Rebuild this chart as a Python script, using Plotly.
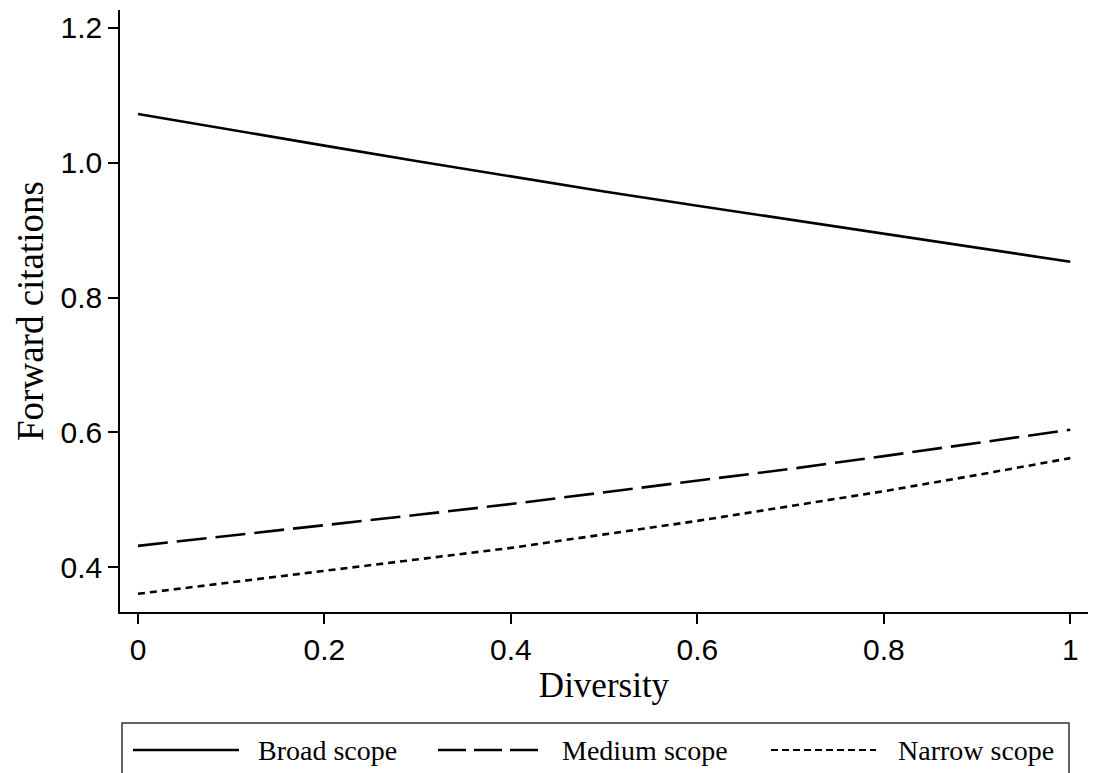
import plotly.graph_objects as go

# Data
diversity = [0.0, 0.1, 0.2, 0.3, 0.4, 0.5, 0.6, 0.7, 0.8, 0.9, 1.0]
broad = [1.072, 1.048, 1.025, 1.002, 0.979, 0.957, 0.936, 0.915, 0.894, 0.873, 0.853]
medium = [0.432, 0.447, 0.462, 0.478, 0.494, 0.511, 0.528, 0.546, 0.565, 0.584, 0.604]
narrow = [0.361, 0.378, 0.394, 0.411, 0.429, 0.449, 0.469, 0.491, 0.513, 0.537, 0.562]
series_names = ["Broad scope", "Medium scope", "Narrow scope"]
y_ticks = [0.4, 0.6, 0.8, 1.0, 1.2]
x_ticks = [0, 0.2, 0.4, 0.6, 0.8, 1]
x_tick_labels = ["0", "0.2", "0.4", "0.6", "0.8", "1"]

dashes = ["solid", "30px,9px", "7px,5px"]
serif = "Liberation Serif, Times New Roman, serif"
sans = "Liberation Sans, Arial, sans-serif"

fig = go.Figure()
for name, vals, dash in zip(series_names, [broad, medium, narrow], dashes):
    fig.add_trace(go.Scatter(x=diversity, y=vals, mode="lines", name=name,
                             line=dict(color="black", width=2.6, dash=dash),
                             showlegend=False))

W, H = 1108, 773
ml, mr, mt, mb = 120, 20, 10, 161
pw, ph = W - ml - mr, H - mt - mb

def px2paper_x(px):
    return (px - ml) / pw

def px2paper_y(py):
    return (H - mb - py) / ph

shapes = []
annotations = []
# legend box
shapes.append(dict(type="rect", xref="paper", yref="paper",
                   x0=px2paper_x(122), x1=px2paper_x(1069),
                   y0=px2paper_y(723), y1=px2paper_y(800),
                   line=dict(color="#333333", width=1.5), fillcolor="rgba(0,0,0,0)"))
sample_x = [(133, 239, 256), (438, 544, 560), (771, 876, 896)]
sample_w = [2.6, 2.6, 2.0]
sample_dash = ["solid", "28px,8px", "7px,4px"]
ly = px2paper_y(750)
for (sx0, sx1, tx), name, w, d in zip(sample_x, series_names, sample_w, sample_dash):
    shapes.append(dict(type="line", xref="paper", yref="paper",
                       x0=px2paper_x(sx0), x1=px2paper_x(sx1), y0=ly, y1=ly,
                       line=dict(color="black", width=w, dash=d)))
    annotations.append(dict(xref="paper", yref="paper", x=px2paper_x(tx), y=ly,
                            text=name, showarrow=False, xanchor="left", yanchor="middle",
                            font=dict(family=serif, size=28, color="black")))

fig.update_layout(
    width=W, height=H,
    margin=dict(l=ml, r=mr, t=mt, b=mb),
    paper_bgcolor="white", plot_bgcolor="white",
    shapes=shapes, annotations=annotations,
    xaxis=dict(range=[-0.0193, 1.019], tickvals=x_ticks, ticktext=x_tick_labels,
               showgrid=False, zeroline=False, showline=True, linecolor="black", linewidth=1.5,
               ticks="outside", ticklen=10, tickwidth=1.5, tickcolor="black",
               tickfont=dict(family=sans, size=30, color="black"),
               title=dict(text="Diversity", font=dict(family=serif, size=35, color="black"), standoff=8)),
    yaxis=dict(range=[0.334, 1.226], tickvals=y_ticks, tickformat=".1f",
               showgrid=False, zeroline=False, showline=True, linecolor="black", linewidth=1.5,
               ticks="outside", ticklen=10, tickwidth=1.5, tickcolor="black",
               tickfont=dict(family=sans, size=30, color="black"),
               title=dict(text="Forward citations", font=dict(family=serif, size=37, color="black"), standoff=6)),
)

fig.write_html("out.html")
